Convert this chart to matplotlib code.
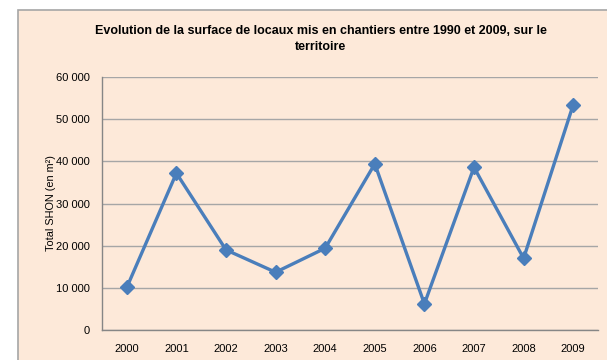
import matplotlib.pyplot as plt
from matplotlib.patches import Rectangle
from matplotlib.ticker import FuncFormatter

years = ["2000", "2001", "2002", "2003", "2004", "2005", "2006", "2007", "2008", "2009"]
shon = [10100, 37200, 19000, 13700, 19400, 39400, 6200, 38600, 17000, 53400]
y_ticks = [0, 10000, 20000, 30000, 40000, 50000, 60000]

plt.rcParams["font.family"] = ["Liberation Sans", "DejaVu Sans"]

fig = plt.figure(figsize=(6.07, 3.6), dpi=100)
fig.patch.set_facecolor("white")

# cadre du graphique (coupé à droite et en bas)
frame = Rectangle((18 / 607, -0.05), 1.0, 1 - 10 / 360 + 0.05, transform=fig.transFigure,
                  facecolor="#FDE9D9", edgecolor="#A6A6A6", linewidth=1.2, zorder=-10)
fig.patches.append(frame)

ax = fig.add_axes([102 / 607, 30 / 360, 496 / 607, 253 / 360])
ax.set_facecolor("none")
ax.set_zorder(1)

x = list(range(len(years)))
ax.plot(x, shon, color="#4A7EBB", linewidth=2.4, marker="D", markersize=7,
        markerfacecolor="#4A7EBB", markeredgecolor="#4A7EBB", zorder=3)

ax.set_xlim(-0.5, len(years) - 0.5)
ax.set_ylim(0, 60000)
ax.set_xticks(x)
ax.set_xticklabels(years)
ax.set_yticks(y_ticks)
ax.yaxis.set_major_formatter(FuncFormatter(lambda v, _: f"{int(v):,}".replace(",", " ")))
ax.tick_params(axis="both", length=0, labelsize=8, colors="black")
ax.tick_params(axis="x", pad=10)
ax.tick_params(axis="y", pad=9)

ax.grid(axis="y", color="#A6A6A6", linewidth=1)
ax.set_axisbelow(True)
for side in ["top", "right"]:
    ax.spines[side].set_visible(False)
for side in ["left", "bottom"]:
    ax.spines[side].set_color("#868686")
    ax.spines[side].set_linewidth(1)

ax.set_ylabel("Total SHON (en m²)", fontsize=7.8, labelpad=0)

fig.text(321 / 607, 1 - 39 / 360,
         "Evolution de la surface de locaux mis en chantiers entre 1990 et 2009, sur le\nterritoire",
         ha="center", va="center", fontsize=9, fontweight="bold", linespacing=1.5)

fig.savefig("out.png", dpi=100)
